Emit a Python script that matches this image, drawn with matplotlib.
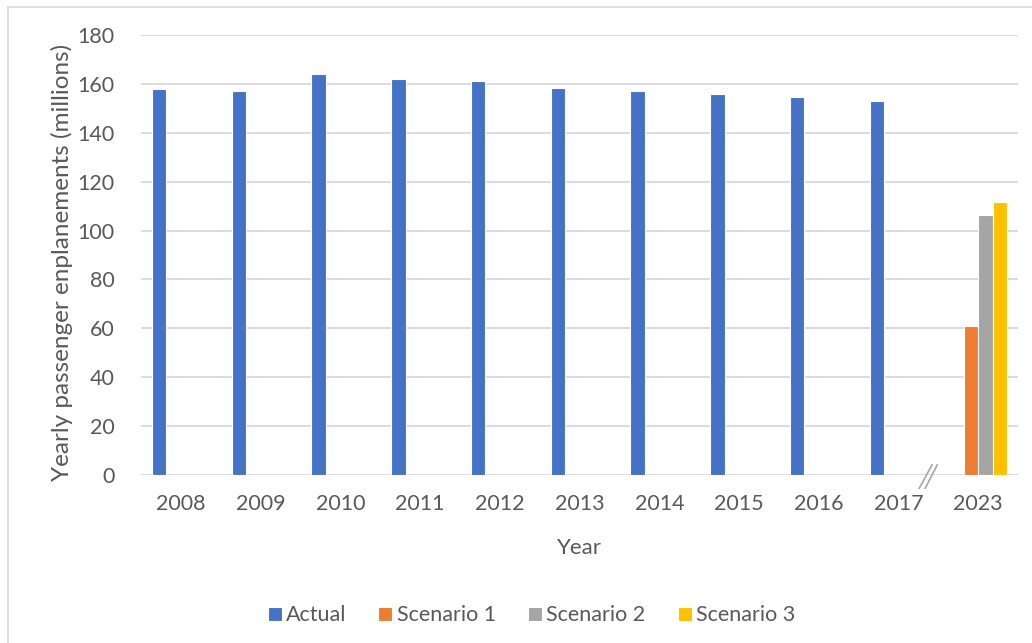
import numpy as np
import matplotlib
matplotlib.use("Agg")
import matplotlib.pyplot as plt
from matplotlib.lines import Line2D
import matplotlib.transforms as mtransforms

plt.rcParams['font.family'] = ['Lato', 'DejaVu Sans']

# 데이터
years = ["2008", "2009", "2010", "2011", "2012", "2013", "2014", "2015", "2016", "2017", "2023"]
actual = [158, 157, 164, 162, 161, 158.5, 157, 156, 154.5, 153]
scenario_1 = [61]
scenario_2 = [106.5]
scenario_3 = [111.5]

series = [
    ("Actual", actual, "#4472C4"),
    ("Scenario 1", scenario_1, "#ED7D31"),
    ("Scenario 2", scenario_2, "#A5A5A5"),
    ("Scenario 3", scenario_3, "#FFC000"),
]

text_color = "#595959"
grid_color = "#D9D9D9"

fig = plt.figure(figsize=(10.32, 6.43), dpi=100)
ax = fig.add_axes([0.1366, 0.2613, 0.85, 0.6843])

x = np.arange(len(years))
width = 0.182
for k, (name, vals, color) in enumerate(series):
    offset = (k - 1.5) * width
    if name == "Actual":
        pos = x[:len(vals)]
    else:
        pos = x[-len(vals):]
    ax.bar(pos + offset, vals, width, color=color, edgecolor="white",
           linewidth=0.8, label=name, zorder=3)

ax.set_xlim(-0.5, len(years) - 0.5)
ax.set_ylim(0, 180)
ax.set_yticks(np.arange(0, 181, 20))
ax.set_xticks(x)
ax.set_xticklabels(years)
ax.grid(axis='y', color=grid_color, linewidth=1.3, zorder=0)
for s in ax.spines.values():
    s.set_visible(False)
ax.tick_params(length=0, labelsize=15.5, labelcolor=text_color)
ax.tick_params(axis='x', pad=14)
ax.tick_params(axis='y', pad=19)

ax.set_xlabel("Year", fontsize=16, color=text_color, labelpad=17)
ax.set_ylabel("Yearly passenger enplanements (millions)", fontsize=17.5,
              color=text_color)
ax.yaxis.set_label_coords(-0.078, 0.482)

# 축 끊김 표시 (//)
trans = mtransforms.blended_transform_factory(ax.transData, ax.transAxes)
for x0, x1 in [(9.26, 9.42), (9.335, 9.485)]:
    ax.plot([x0, x1], [-0.03, 0.023], color="#A6A6A6", linewidth=1.2,
            transform=trans, clip_on=False, zorder=4)

leg = fig.legend(loc="center", bbox_to_anchor=(0.515, 0.043), ncol=4,
                 frameon=False, fontsize=15.5, handlelength=0.65, handleheight=0.65,
                 handletextpad=0.2, columnspacing=1.5, labelcolor=text_color)

# 차트 테두리
fig.add_artist(Line2D([0.008, 0.008], [0, 0.989], color=grid_color, linewidth=1.2))
fig.add_artist(Line2D([0.008, 1], [0.989, 0.989], color=grid_color, linewidth=1.2))

fig.savefig("out.png", dpi=100)
